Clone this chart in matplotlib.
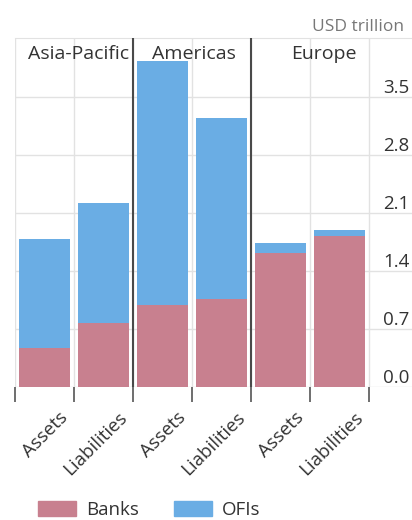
import matplotlib
matplotlib.use("Agg")
import matplotlib.pyplot as plt
from matplotlib.transforms import ScaledTranslation, blended_transform_factory
from matplotlib.patches import Patch
import numpy as np

plt.rcParams['font.family'] = ['Open Sans', 'DejaVu Sans']

# ---- data ----
categories = ["Assets", "Liabilities", "Assets", "Liabilities", "Assets", "Liabilities"]
regions = ["Asia-Pacific", "Americas", "Europe"]
banks = [0.47, 0.77, 0.99, 1.06, 1.62, 1.82]
ofis = [1.32, 1.45, 2.94, 2.19, 0.12, 0.07]
yticks = [0.0, 0.7, 1.4, 2.1, 2.8, 3.5]
unit_label = "USD trillion"
series_names = ["Banks", "OFIs"]

# ---- style ----
bank_color = "#C8808F"
ofi_color = "#6AADE4"
grid_color = "#E2E2E2"
text_color = "#333333"

W, H = 412, 520
fig = plt.figure(figsize=(W / 100, H / 100), dpi=100)
ax = fig.add_axes([15 / W, 1 - 387 / H, (W - 15) / W, (387 - 38) / H])

x = np.arange(len(categories))
bw = 0.86
ax.bar(x, banks, width=bw, color=bank_color, zorder=2, label=series_names[0])
ax.bar(x, ofis, width=bw, bottom=banks, color=ofi_color, zorder=2, label=series_names[1])

ax.set_xlim(-0.5, -0.5 + (W - 15) / 59)
ax.set_ylim(0, 4.212)

# y axis: labels inside on right, above gridlines
ax.yaxis.tick_right()
ax.set_yticks(yticks)
ax.set_yticklabels([f"{v:.1f}" for v in yticks])
ax.tick_params(axis='y', length=0, pad=-21, labelsize=13.5, labelcolor=text_color)
for lbl in ax.get_yticklabels():
    lbl.set_va('bottom')
ax.yaxis.grid(True, color=grid_color, lw=1, zorder=0)

# x axis: boundaries as minor ticks with grid, labels at categories
ax.set_xticks(np.arange(-0.5, len(categories), 1.0), minor=True)
ax.set_xticks(x)
ax.set_xticklabels(categories, rotation=45, ha='right', va='center', rotation_mode='anchor')
ax.tick_params(axis='x', which='major', length=0, pad=20, labelsize=13.5, labelcolor=text_color)
ax.tick_params(axis='x', which='minor', length=11, width=1.2, color='#555555', direction='out')
ax.xaxis.grid(True, which='minor', color=grid_color, lw=1, zorder=0)
off = ScaledTranslation(21 / 100, 0, fig.dpi_scale_trans)
for lbl in ax.get_xticklabels():
    lbl.set_transform(lbl.get_transform() + off)

for s in ['left', 'right', 'bottom']:
    ax.spines[s].set_visible(False)
ax.spines['top'].set_color(grid_color)

# group separators
n_per = len(categories) // len(regions)
for g in range(1, len(regions)):
    ax.axvline(g * n_per - 0.5, color='#4A4A4A', lw=1.5, zorder=3)

# group labels
trans = blended_transform_factory(ax.transData, ax.transAxes)
label_shift = [0.07, 0.03, 0.24]
for g, name in enumerate(regions):
    cx = g * n_per + (n_per - 1) / 2 + label_shift[g]
    ax.text(cx, 1 - 7 / 349, name, transform=trans, ha='center', va='top',
            fontsize=14, color=text_color, zorder=4)

fig.text(404 / W, 1 - 27 / H, unit_label, ha='right', va='center', fontsize=12.5, color='#777777')

handles = [Patch(color=bank_color), Patch(color=ofi_color)]
fig.legend(handles, series_names, loc='center left', bbox_to_anchor=(38 / W, 1 - 510 / H),
           ncol=2, frameon=False, fontsize=13.5, handlelength=2.0, handleheight=0.8,
           handletextpad=0.55, columnspacing=1.9, borderpad=0, borderaxespad=0,
           labelcolor=text_color)

fig.savefig("out.png", dpi=100)
